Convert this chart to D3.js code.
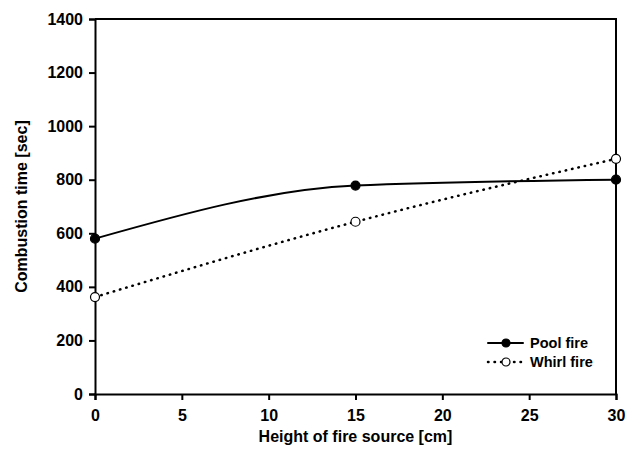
<!DOCTYPE html>
<html lang="en">
<meta charset="utf-8">
<style>
  body { margin: 0; background: #fff; }
  text { font-family: "Liberation Sans", Arial, sans-serif; font-weight: bold; fill: #000; }
  .axis path, .axis line { stroke: #000; stroke-width: 2px; }
  .axis text { font-size: 16px; }
</style>
<script src="https://d3js.org/d3.v7.min.js"></script>
<body>
<div id="chart"></div>
<script>
// data
const heights = [0, 15, 30]
const poolFire = [580, 778, 800]
const whirlFire = [362, 643, 878]
const xTicks = [0, 5, 10, 15, 20, 25, 30]
const yTicks = [0, 200, 400, 600, 800, 1000, 1200, 1400]

const W = 628, H = 463
const MARGIN = { LEFT: 95, RIGHT: 12, TOP: 19, BOTTOM: 69 }
const WIDTH = W - MARGIN.LEFT - MARGIN.RIGHT
const HEIGHT = H - MARGIN.TOP - MARGIN.BOTTOM

const svg = d3.select("#chart").append("svg")
  .attr("width", W)
  .attr("height", H)

const g = svg.append("g")
  .attr("transform", `translate(${MARGIN.LEFT}, ${MARGIN.TOP})`)

const x = d3.scaleLinear().domain([0, 30]).range([0, WIDTH])
const y = d3.scaleLinear().domain([0, 1400]).range([HEIGHT, 0])

// frame (top + right)
g.append("path")
  .attr("d", `M0,0H${WIDTH}V${HEIGHT}`)
  .attr("fill", "none")
  .attr("stroke", "#000")
  .attr("stroke-width", 2)

g.append("g")
  .attr("class", "axis")
  .attr("transform", `translate(0, ${HEIGHT})`)
  .call(d3.axisBottom(x).tickValues(xTicks).tickFormat(d3.format("d"))
    .tickSizeOuter(0).tickSize(6).tickPadding(10))

g.append("g")
  .attr("class", "axis")
  .call(d3.axisLeft(y).tickValues(yTicks).tickFormat(d3.format("d"))
    .tickSizeOuter(0).tickSize(6).tickPadding(6))

// axis titles
g.append("text")
  .attr("x", WIDTH / 2)
  .attr("y", HEIGHT + 48)
  .attr("text-anchor", "middle")
  .style("font-size", "16px")
  .text("Height of fire source [cm]")

g.append("text")
  .attr("transform", "rotate(-90)")
  .attr("x", -HEIGHT / 2)
  .attr("y", -68)
  .attr("text-anchor", "middle")
  .style("font-size", "16px")
  .text("Combustion time [sec]")

const series = [
  { name: "Pool fire", values: poolFire, dash: null, fill: "#000" },
  { name: "Whirl fire", values: whirlFire, dash: "2,5", fill: "#fff" }
]

const line = d3.line()
  .x((d, i) => x(heights[i]))
  .y(d => y(d))
  .curve(d3.curveMonotoneX)

series.forEach(s => {
  g.append("path")
    .attr("d", line(s.values))
    .attr("fill", "none")
    .attr("stroke", "#000")
    .attr("stroke-width", s.dash ? 2.5 : 2)
    .attr("stroke-linecap", "round")
    .attr("stroke-dasharray", s.dash ? "0.5,6" : null)

  g.selectAll(null)
    .data(s.values)
    .join("circle")
    .attr("cx", (d, i) => x(heights[i]))
    .attr("cy", d => y(d))
    .attr("r", 4.5)
    .attr("fill", s.fill)
    .attr("stroke", "#000")
    .attr("stroke-width", 1.2)
})

// legend
const legend = g.append("g")
  .attr("transform", `translate(${488 - MARGIN.LEFT}, ${343 - MARGIN.TOP})`)

series.forEach((s, i) => {
  const row = legend.append("g").attr("transform", `translate(0, ${i * 19})`)
  row.append("line")
    .attr("x1", 0).attr("x2", 35)
    .attr("stroke", "#000")
    .attr("stroke-width", s.dash ? 2.5 : 2)
    .attr("stroke-linecap", "round")
    .attr("stroke-dasharray", s.dash ? "0.5,6" : null)
  row.append("circle")
    .attr("cx", 18)
    .attr("r", 4)
    .attr("fill", s.fill)
    .attr("stroke", "#000")
    .attr("stroke-width", 1.2)
  row.append("text")
    .attr("x", 42)
    .attr("dy", "0.35em")
    .style("font-size", "14.5px")
    .text(s.name)
})
</script>
</body>
</html>
